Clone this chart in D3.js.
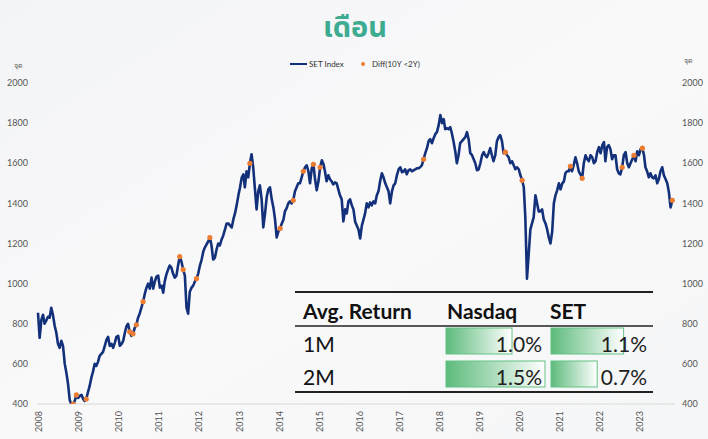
<!DOCTYPE html>
<html><head><meta charset="utf-8">
<script src="https://cdn.jsdelivr.net/npm/d3@7"></script>
<style>body{margin:0;background:#fff;} svg{display:block;font-family:Lato,"Noto Sans",sans-serif;}</style>
</head><body><svg id="c" width="708" height="439"></svg>
<script>
// ---- data (semi-monthly: 1st and 16th of each month) ----
const set2008 = [855,730, 820,845, 800,815, 835,830, 880,845, 790,755, 700,680, 715,690, 600,555, 500,420, 398,400, 415,445];
const set2009 = [430,440, 445,425, 415,425, 460,490, 530,560, 600,590, 610,640, 650,660, 690,720, 735,690, 700,680, 705,735];
const set2010 = [740,690, 700,715, 750,785, 800,760, 740,750, 780,795, 830,850, 880,910, 950,980, 1000,975, 1030,975, 1010,1035];
const set2011 = [1040,980, 990,955, 1010,1045, 1070,1090, 1080,1050, 1030,1040, 1090,1135, 1110,1070, 1040,880, 850,960, 980,990, 1010,1025];
const set2012 = [1050,1090, 1120,1160, 1180,1195, 1210,1230, 1190,1120, 1130,1170, 1200,1190, 1220,1240, 1270,1300, 1300,1290, 1280,1320, 1350,1390];
const set2013 = [1440,1480, 1530,1545, 1480,1560, 1530,1600, 1645,1580, 1470,1370, 1460,1490, 1420,1280, 1350,1430, 1470,1480, 1420,1380, 1320,1230];
const set2014 = [1260,1275, 1300,1320, 1360,1375, 1400,1410, 1400,1415, 1460,1480, 1500,1500, 1530,1560, 1580,1590, 1560,1500, 1575,1595, 1520,1465];
const set2015 = [1510,1580, 1615,1595, 1560,1510, 1540,1520, 1510,1495, 1505,1500, 1470,1440, 1420,1310, 1370,1350, 1410,1420, 1390,1370, 1310,1290];
const set2016 = [1270,1225, 1290,1320, 1350,1400, 1380,1405, 1390,1410, 1400,1440, 1460,1510, 1550,1530, 1500,1480, 1460,1400, 1460,1490, 1500,1540];
const set2017 = [1570,1580, 1555,1560, 1570,1545, 1565,1570, 1560,1565, 1570,1575, 1575,1580, 1590,1620, 1650,1675, 1710,1720, 1700,1725, 1745,1755];
const set2018 = [1790,1840, 1800,1820, 1770,1775, 1770,1780, 1750,1710, 1660,1600, 1640,1700, 1710,1720, 1730,1755, 1720,1650, 1640,1620, 1600,1565];
const set2019 = [1570,1600, 1640,1655, 1640,1630, 1650,1675, 1640,1610, 1640,1710, 1730,1740, 1710,1650, 1655,1640, 1630,1600, 1610,1590, 1570,1580];
const set2020 = [1570,1540, 1515,1480, 1330,1025, 1150,1270, 1300,1330, 1440,1400, 1360,1360, 1370,1320, 1300,1270, 1230,1200, 1260,1400, 1440,1465];
const set2021 = [1500,1470, 1500,1510, 1550,1560, 1560,1585, 1560,1590, 1630,1600, 1560,1545, 1525,1600, 1640,1620, 1610,1640, 1630,1600, 1610,1655];
const set2022 = [1680,1650, 1690,1705, 1610,1680, 1690,1670, 1620,1640, 1640,1570, 1550,1545, 1580,1640, 1655,1600, 1580,1600, 1620,1640, 1610,1660];
const set2023 = [1640,1670, 1675,1640, 1580,1560, 1530,1550, 1530,1525, 1540,1500, 1520,1560, 1580,1540, 1520,1500, 1455,1380, 1415];

const diffDates = ["2008-11-16","2008-12-16","2009-03-16","2010-04-16","2010-05-16","2010-06-16","2010-08-16",
  "2011-07-16","2011-08-16","2011-12-16","2012-04-16","2013-04-16","2014-01-16","2014-05-16","2014-08-16",
  "2014-11-16","2015-01-16","2017-08-16","2019-09-01","2020-02-01","2021-04-16","2021-08-01","2022-08-01",
  "2022-11-16","2023-02-01","2023-11-01"];
const diffValues = [400,445,425,760,750,795,910, 1135,1070,1025,1230,1600,1275,1415,1560, 1595,1580,1620,1655,1515,1585,1525,1580, 1640,1675,1415];

const yTicks = [400,600,800,1000,1200,1400,1600,1800,2000];
const xYears = [2008,2009,2010,2011,2012,2013,2014,2015,2016,2017,2018,2019,2020,2021,2022,2023];

const tableHeaders = ["Avg. Return","Nasdaq","SET"];
const tableRows = ["1M","2M"];
const nasdaqReturn = [1.0,1.5];
const setReturn = [1.1,0.7];

// ---- build series ----
const yearArrays = [set2008,set2009,set2010,set2011,set2012,set2013,set2014,set2015,set2016,set2017,set2018,set2019,set2020,set2021,set2022,set2023];
const series = [];
yearArrays.forEach((arr,k)=>{
  arr.forEach((v,i)=>{
    series.push({date:new Date(2008+k, Math.floor(i/2), i%2 ? 16 : 1), value:v});
  });
});
const dots = diffDates.map((d,i)=>({date:d3.timeParse("%Y-%m-%d")(d), value:diffValues[i]}));

const svg = d3.select("#c");
const defs = svg.append("defs");
const bg = defs.append("linearGradient").attr("id","bg").attr("x1",0).attr("y1",0).attr("x2",1).attr("y2",1);
bg.append("stop").attr("offset",0).attr("stop-color","#f3f4f6");
bg.append("stop").attr("offset",0.5).attr("stop-color","#f9f9fa");
bg.append("stop").attr("offset",1).attr("stop-color","#f5f6f7");
svg.append("rect").attr("width",708).attr("height",439).attr("fill","url(#bg)");

const x = d3.scaleTime().domain([new Date(2008,0,1), new Date(2024,0,1)]).range([38,679]);
const y = d3.scaleLinear().domain([400,2000]).range([404,83]);

defs.append("clipPath").attr("id","clip").append("rect")
  .attr("x",30).attr("y",y(2000)-5).attr("width",660).attr("height",y(400)-y(2000)+5);

// title
svg.append("text").attr("x",355).attr("y",37).attr("text-anchor","middle")
  .attr("font-size",29).attr("font-weight",700).attr("fill","#3dab8f")
  .attr("font-family","'Noto Sans Thai','Noto Sans',sans-serif").text("เดือน");

// legend
const lg = svg.append("g").attr("font-size",8).attr("fill","#333");
lg.append("line").attr("x1",290).attr("x2",307).attr("y1",64).attr("y2",64).attr("stroke","#13307a").attr("stroke-width",2);
lg.append("text").attr("x",309).attr("y",67).text("SET Index");
lg.append("circle").attr("cx",363).attr("cy",64).attr("r",2).attr("fill","#ed7d31");
lg.append("text").attr("x",372).attr("y",67).text("Diff(10Y <2Y)");

// unit labels
svg.append("text").attr("x",18).attr("y",68).attr("text-anchor","middle").attr("font-size",7).attr("fill","#555").text("จุด");
svg.append("text").attr("x",688).attr("y",63).attr("text-anchor","middle").attr("font-size",7).attr("fill","#555").text("จุด");

// y tick labels
const yl = svg.append("g").attr("font-size",9).attr("fill","#555");
yl.selectAll("text.l").data(yTicks).join("text").attr("class","l")
  .attr("x",28).attr("y",d=>y(d)).attr("dy","0.35em").attr("text-anchor","end").text(d=>d);
yl.selectAll("text.r").data(yTicks).join("text").attr("class","r")
  .attr("x",682).attr("y",d=>y(d)).attr("dy","0.35em").attr("text-anchor","start").text(d=>d);

// x axis line and labels
svg.append("line").attr("x1",37).attr("x2",675).attr("y1",y(400)).attr("y2",y(400)).attr("stroke","#d9d9d9").attr("stroke-width",1);
svg.append("g").attr("font-size",9).attr("fill","#555")
  .selectAll("text").data(xYears).join("text")
  .attr("transform",d=>`translate(${x(new Date(d,0,1))+1},411) rotate(-90)`)
  .attr("text-anchor","end").attr("dy","0.35em").text(d=>d);

// line
const line = d3.line().x(d=>x(d.date)).y(d=>y(d.value)).curve(d3.curveLinear);
const plot = svg.append("g").attr("clip-path","url(#clip)");
plot.append("path").datum(series).attr("d",line).attr("fill","none")
  .attr("stroke","#13307a").attr("stroke-width",2.6).attr("stroke-linejoin","round");
plot.selectAll("circle").data(dots).join("circle")
  .attr("cx",d=>x(d.date)).attr("cy",d=>y(d.value)).attr("r",2.6).attr("fill","#ed7d31");

// table
const bar = d3.scaleLinear().domain([0,1.5]).range([0,99]);
const gg = defs.append("linearGradient").attr("id","gbar").attr("x1",0).attr("x2",1).attr("y1",0).attr("y2",0);
gg.append("stop").attr("offset",0).attr("stop-color","#5dbb7c");
gg.append("stop").attr("offset",1).attr("stop-color","#ffffff");

const t = svg.append("g").attr("fill","#111");
t.append("line").attr("x1",295).attr("x2",653).attr("y1",292).attr("y2",292).attr("stroke","#222").attr("stroke-width",2);
t.append("line").attr("x1",295).attr("x2",653).attr("y1",326).attr("y2",326).attr("stroke","#222").attr("stroke-width",1.5);
t.append("line").attr("x1",295).attr("x2",653).attr("y1",392).attr("y2",392).attr("stroke","#222").attr("stroke-width",2);
const hx = [303,447,550];
t.selectAll("text.h").data(tableHeaders).join("text").attr("class","h")
  .attr("x",(d,i)=>hx[i]).attr("y",319).attr("font-size",21).attr("font-weight",700).text(d=>d);
const rowY = [328,361];
const rowBase = [352,385];
tableRows.forEach((r,i)=>{
  t.append("text").attr("x",303).attr("y",rowBase[i]).attr("font-size",21).text(r);
  [[nasdaqReturn,446,542],[setReturn,551,647]].forEach(([arr,x0,xr])=>{
    t.append("rect").attr("x",x0).attr("y",rowY[i]).attr("width",bar(arr[i])).attr("height",26)
      .attr("fill","url(#gbar)").attr("stroke","#63c384").attr("stroke-width",1);
    t.append("text").attr("x",xr).attr("y",rowBase[i]).attr("text-anchor","end").attr("font-size",21)
      .attr("fill","#222").text(arr[i].toFixed(1)+"%");
  });
});
</script></body></html>
